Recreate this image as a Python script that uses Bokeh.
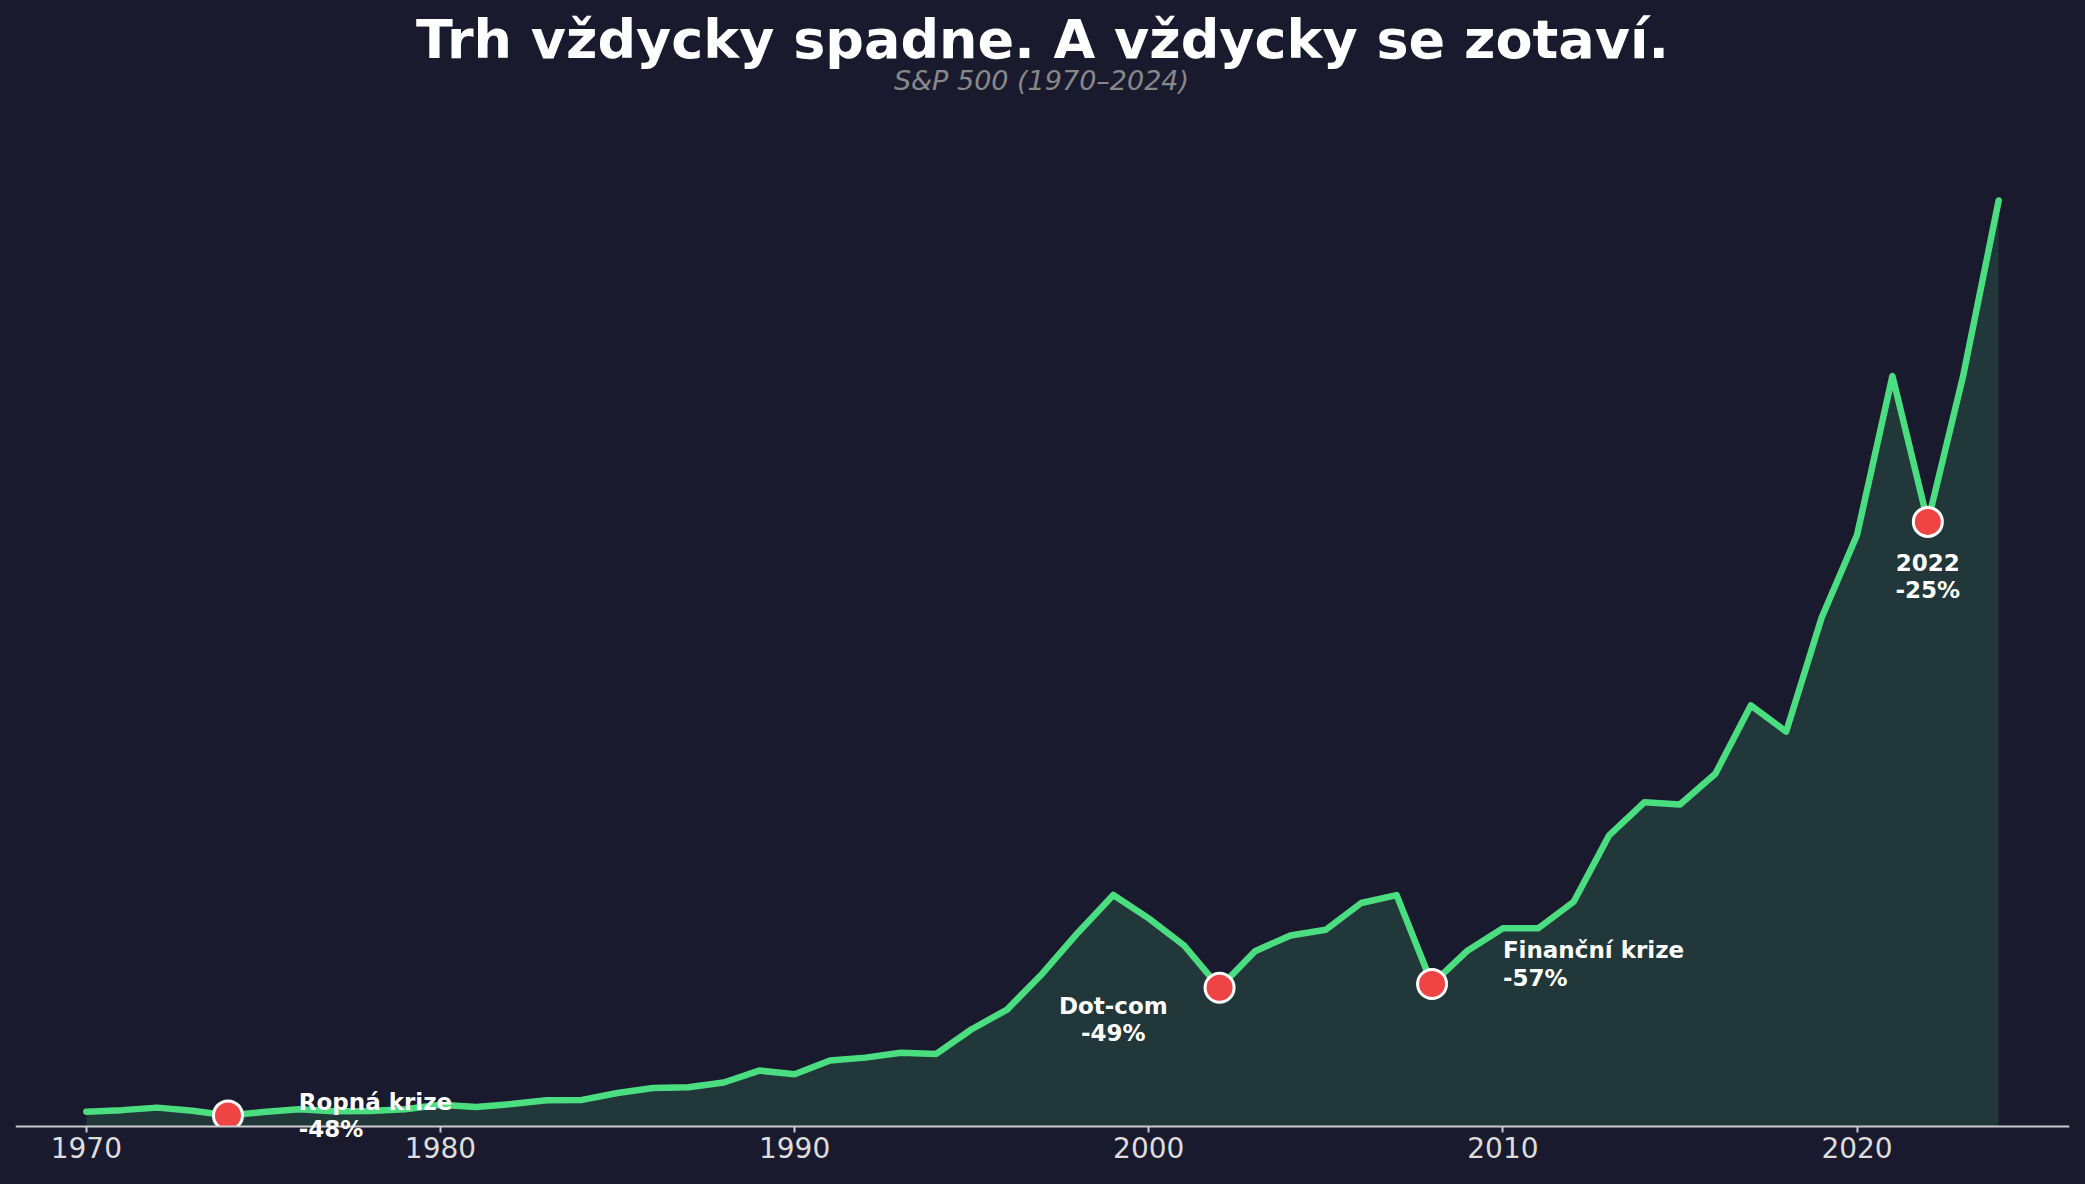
from bokeh.plotting import figure
from bokeh.models import Label, Range1d, FixedTicker, ColumnDataSource, BoxAnnotation
from bokeh.embed import file_html
from bokeh.resources import INLINE

years = list(range(1970, 2025))
sp500 = [92.15, 102.09, 118.05, 97.55, 68.56, 90.19, 107.46, 95.10, 96.11, 107.94,
         135.76, 122.55, 140.64, 164.93, 167.24, 211.28, 242.17, 247.08, 277.72, 353.40,
         330.22, 417.09, 435.71, 466.45, 459.27, 615.93, 740.74, 970.43, 1229.23, 1469.25,
         1320.28, 1148.08, 879.82, 1111.92, 1211.92, 1248.29, 1418.30, 1468.36, 903.25, 1115.10,
         1257.64, 1257.60, 1426.19, 1848.36, 2058.90, 2043.94, 2238.83, 2673.61, 2506.85, 3230.78,
         3756.07, 4766.18, 3839.50, 4769.83, 5881.63]

crash_years = [1974, 2002, 2008, 2022]
crash_names = ["Ropná krize", "Dot-com", "Finanční krize", "2022"]
crash_drops = ["-48%", "-49%", "-57%", "-25%"]
tick_years = [1970, 1980, 1990, 2000, 2010, 2020]

title_text = "Trh vždycky spadne. A vždycky se zotaví."
subtitle_text = "S&P 500 (1970–2024)"

BG = "#1a1a2e"
GREEN = "#4ade80"
RED = "#ef4444"
FONT = "DejaVu Sans"

crash_vals = [sp500[years.index(y)] for y in crash_years]

W, H = 2080, 1180
p = figure(width=W, height=H, output_backend="svg", toolbar_location=None,
           x_range=Range1d(1968, 2026), y_range=Range1d(-345.0, 7152.3),
           min_border_left=15, min_border_right=11, min_border_top=0, min_border_bottom=0,
           background_fill_color=BG, border_fill_color=BG)
p.title.visible = False
p.outline_line_color = None
p.grid.visible = False
p.yaxis.visible = False

src = ColumnDataSource(dict(x=years, y=sp500, y0=[0] * len(years)))
p.varea(x="x", y1="y0", y2="y", source=src, fill_color=GREEN, fill_alpha=0.15)
p.line(x="x", y="y", source=src, line_color=GREEN, line_width=6.5, line_join="round", line_cap="round")
p.scatter(x=crash_years, y=crash_vals, size=29, fill_color=RED, line_color="white", line_width=3)
# everything below the x axis is outside the plotting area
p.add_layout(BoxAnnotation(top=0, fill_color=BG, fill_alpha=1.0, line_color=None, level="glyph"))

ax = p.xaxis[0]
ax.fixed_location = 0
ax.ticker = FixedTicker(ticks=tick_years)
ax.axis_line_color = "#cccccc"
ax.axis_line_width = 2
ax.major_tick_line_color = "#cccccc"
ax.major_tick_line_width = 2
ax.major_tick_out = 6
ax.major_tick_in = 0
ax.minor_tick_line_color = None
ax.major_label_text_color = "#dddddd"
ax.major_label_text_font = FONT
ax.major_label_text_font_size = "28px"
ax.major_label_standoff = 5

# annotation placement (offsets from the crash point)
placements = {
    1974: (2, 1.0, "left"),
    2002: (-3, 0.77, "center"),
    2008: (2, 1.14, "left"),
    2022: (0, 0.91, "center"),
}
for yr, name, drop, val in zip(crash_years, crash_names, crash_drops, crash_vals):
    dx, fy, align = placements[yr]
    p.add_layout(Label(x=yr + dx, y=val * fy, text=f"{name}\n{drop}",
                       text_font=FONT, text_font_size="23px", text_font_style="bold",
                       text_color="white", text_align=align, text_baseline="middle",
                       text_line_height=1.05))

p.add_layout(Label(x=1027, y=H - 38.5, x_units="screen", y_units="screen", text=title_text,
                   text_font=FONT, text_font_size="54px", text_font_style="bold",
                   text_color="white", text_align="center", text_baseline="alphabetic"))
p.add_layout(Label(x=1026, y=H - 80.0, x_units="screen", y_units="screen", text=subtitle_text,
                   text_font=FONT, text_font_size="27px", text_font_style="italic",
                   text_color="#888888", text_align="center", text_baseline="alphabetic"))

html = file_html(p, INLINE)
html = html.replace("<body>", f'<body style="background-color:{BG};">')
open("out.html", "w").write(html)
